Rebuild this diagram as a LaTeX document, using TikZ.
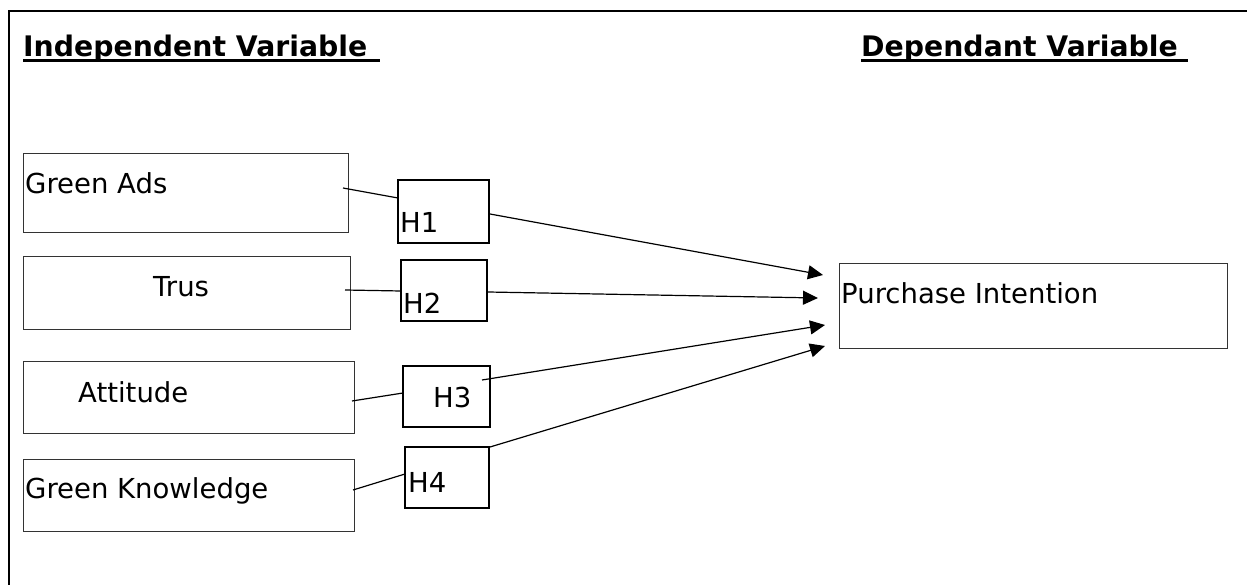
\documentclass[tikz,border=0pt]{standalone}
\usepackage{fontspec}
\setmainfont{DejaVu Sans}
\usetikzlibrary{arrows.meta}
\begin{document}
\begin{tikzpicture}[x=1pt,y=-1pt,
  varbox/.style={draw=black!80,line width=1pt,inner sep=0pt,outer sep=0pt,anchor=north west},
  hbox/.style={draw,line width=2pt,inner sep=0pt,outer sep=0pt,anchor=north west},
  lbl/.style={anchor=base west,inner sep=0pt,font=\fontsize{27.5}{32}\selectfont},
  ttl/.style={anchor=base west,inner sep=0pt,font=\fontsize{28.3}{34}\selectfont\bfseries},
  conn/.style={line width=1.2pt},
  arr/.style={line width=1.2pt,-{Triangle[length=15pt,width=14pt]}}]
\useasboundingbox (0,0) rectangle (1247,585);
% frame
\draw[line width=2pt] (1247,11) -- (9,11) -- (9,585);
% titles
\node[ttl] (tind) at (23,57) {Independent Variable};
\node[ttl] (tdep) at (861,57) {Dependant Variable};
\draw[line width=3pt] (23,61) -- (380,61);
\draw[line width=3pt] (861,61) -- (1188,61);
% variable boxes
\node[varbox,minimum width=325pt,minimum height=79pt] (ga) at (23,154) {};
\node[varbox,minimum width=327pt,minimum height=72pt] (tr) at (23,257) {};
\node[varbox,minimum width=331pt,minimum height=72pt] (at) at (23,361) {};
\node[varbox,minimum width=331pt,minimum height=72pt] (gk) at (23,459) {};
\node[varbox,minimum width=388pt,minimum height=84pt] (pi) at (839,264) {};
\node[lbl] (tga) at (25,194) {Green Ads};
\node[lbl] (ttr) at (153,296) {Trus};
\node[lbl] (tat) at (78,402) {Attitude};
\node[lbl] (tgk) at (25,498) {Green Knowledge};
\node[lbl] (tpi) at (841,303) {Purchase Intention};
% hypothesis boxes
\node[hbox,minimum width=91pt,minimum height=63pt] (h1) at (398,180) {};
\node[hbox,minimum width=86pt,minimum height=61pt] (h2) at (401,260) {};
\node[hbox,minimum width=87pt,minimum height=61pt] (h3) at (403,366) {};
\node[hbox,minimum width=84pt,minimum height=61pt] (h4) at (405,447) {};
\node[lbl] (th1) at (400,233) {H1};
\node[lbl] (th2) at (403,313) {H2};
\node[lbl] (th3) at (433,407) {H3};
\node[lbl] (th4) at (408,492) {H4};
% connector end points
\coordinate (gaout) at (343,188);
\coordinate (h1in) at (398,198);
\coordinate (trout) at (345,290);
\coordinate (h2in) at (401,291);
\coordinate (atout) at (352,401);
\coordinate (h3in) at (403,393);
\coordinate (gkout) at (353,490);
\coordinate (h4in) at (405,474);
\coordinate (h1out) at (490,214);
\coordinate (h2out) at (488,292);
\coordinate (h3out) at (482,380);
\coordinate (h4out) at (490,447);
\coordinate (pi1) at (823,275);
\coordinate (pi2) at (818,298);
\coordinate (pi3) at (825,325);
\coordinate (pi4) at (825,346);
% connectors
\draw[conn] (gaout) -- (h1in);
\draw[conn] (trout) -- (h2in);
\draw[conn] (atout) -- (h3in);
\draw[conn] (gkout) -- (h4in);
\draw[arr] (h1out) -- (pi1);
\draw[arr] (h2out) -- (pi2);
\draw[arr] (h3out) -- (pi3);
\draw[arr] (h4out) -- (pi4);
\end{tikzpicture}
\end{document}
